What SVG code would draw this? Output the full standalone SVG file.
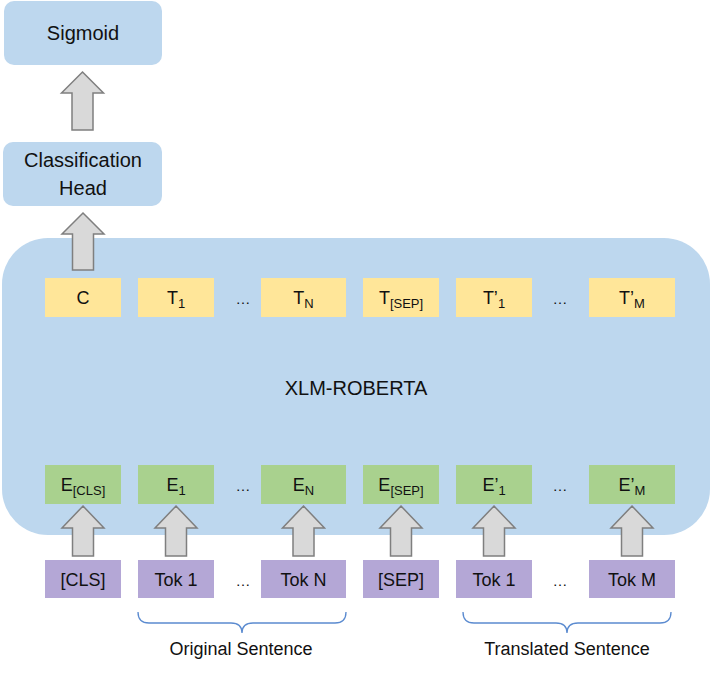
<svg xmlns="http://www.w3.org/2000/svg" width="712" height="677" viewBox="0 0 712 677">
<defs>
<style>
text{font-family:"Liberation Sans",Arial,sans-serif;fill:#111;text-anchor:middle}
.blue{fill:#BDD7EE}
.yel{fill:#FFE699}
.grn{fill:#A9D18E}
.pur{fill:#B4A7D6}
.lbl{font-size:18px}
.big{font-size:20px}
.sub{font-size:13px}
.dots{font-size:15px}
.arr{fill:#D9D9D9;stroke:#7F7F7F;stroke-width:1.5;stroke-linejoin:miter}
.brace{fill:none;stroke:#5B8BD0;stroke-width:1.3}
.cap{font-size:18px}
</style>
</defs>
<rect width="712" height="677" fill="#fff"/>

<g id="xlm-roberta">
<rect class="blue" x="2" y="238" width="708" height="297" rx="46" ry="46"/>
<text class="big" x="356" y="395">XLM-ROBERTA</text>
</g>

<g id="sigmoid">
<rect class="blue" x="4" y="1" width="158" height="64" rx="10"/>
<text class="big" x="83" y="40">Sigmoid</text>
</g>
<g id="classification-head">
<rect class="blue" x="3" y="142" width="159" height="64" rx="10"/>
<text class="big" x="83" y="167">Classification</text>
<text class="big" x="83" y="195">Head</text>
</g>

<g id="t-row">
<g id="t-c"><rect class="yel" x="45" y="278" width="76" height="39"/><text class="lbl" x="83" y="304">C</text></g>
<g id="t-1"><rect class="yel" x="138" y="278" width="76" height="39"/><text class="lbl" x="176" y="304">T<tspan class="sub" dy="4">1</tspan></text></g>
<text class="dots" x="243" y="304">…</text>
<g id="t-n"><rect class="yel" x="261" y="278" width="85" height="39"/><text class="lbl" x="303.5" y="304">T<tspan class="sub" dy="4">N</tspan></text></g>
<g id="t-sep"><rect class="yel" x="363" y="278" width="76" height="39"/><text class="lbl" x="401" y="304">T<tspan class="sub" dy="4">[SEP]</tspan></text></g>
<g id="t-p1"><rect class="yel" x="456" y="278" width="76" height="39"/><text class="lbl" x="494" y="304">T’<tspan class="sub" dy="4">1</tspan></text></g>
<text class="dots" x="560" y="304">…</text>
<g id="t-pm"><rect class="yel" x="589" y="278" width="86" height="39"/><text class="lbl" x="632" y="304">T’<tspan class="sub" dy="4">M</tspan></text></g>
</g>

<g id="e-row">
<g id="e-cls"><rect class="grn" x="45" y="465" width="76" height="39"/><text class="lbl" x="83" y="491">E<tspan class="sub" dy="4">[CLS]</tspan></text></g>
<g id="e-1"><rect class="grn" x="138" y="465" width="76" height="39"/><text class="lbl" x="176" y="491">E<tspan class="sub" dy="4">1</tspan></text></g>
<text class="dots" x="243" y="491">…</text>
<g id="e-n"><rect class="grn" x="261" y="465" width="85" height="39"/><text class="lbl" x="303.5" y="491">E<tspan class="sub" dy="4">N</tspan></text></g>
<g id="e-sep"><rect class="grn" x="363" y="465" width="76" height="39"/><text class="lbl" x="401" y="491">E<tspan class="sub" dy="4">[SEP]</tspan></text></g>
<g id="e-p1"><rect class="grn" x="456" y="465" width="76" height="39"/><text class="lbl" x="494" y="491">E’<tspan class="sub" dy="4">1</tspan></text></g>
<text class="dots" x="560" y="491">…</text>
<g id="e-pm"><rect class="grn" x="589" y="465" width="86" height="39"/><text class="lbl" x="632" y="491">E’<tspan class="sub" dy="4">M</tspan></text></g>
</g>

<g id="tok-row">
<g id="tok-cls"><rect class="pur" x="45" y="560" width="76" height="38"/><text class="lbl" x="83" y="586">[CLS]</text></g>
<g id="tok-1"><rect class="pur" x="138" y="560" width="76" height="38"/><text class="lbl" x="176" y="586">Tok 1</text></g>
<text class="dots" x="243" y="586">…</text>
<g id="tok-n"><rect class="pur" x="261" y="560" width="85" height="38"/><text class="lbl" x="303.5" y="586">Tok N</text></g>
<g id="tok-sep"><rect class="pur" x="363" y="560" width="76" height="38"/><text class="lbl" x="401" y="586">[SEP]</text></g>
<g id="tok-p1"><rect class="pur" x="456" y="560" width="76" height="38"/><text class="lbl" x="494" y="586">Tok 1</text></g>
<text class="dots" x="560" y="586">…</text>
<g id="tok-pm"><rect class="pur" x="589" y="560" width="86" height="38"/><text class="lbl" x="632" y="586">Tok M</text></g>
</g>

<g id="connectors">
<polygon class="arr" points="82.5,72 103.5,93 93,93 93,130 72,130 72,93 61.5,93"/>
<polygon class="arr" points="83,213 104,234 93.5,234 93.5,270 72.5,270 72.5,234 62,234"/>
<polygon class="arr" points="83,506 104,528 93.5,528 93.5,556 72.5,556 72.5,528 62,528"/>
<polygon class="arr" points="176,506 197,528 186.5,528 186.5,556 165.5,556 165.5,528 155,528"/>
<polygon class="arr" points="303.5,506 324.5,528 314,528 314,556 293,556 293,528 282.5,528"/>
<polygon class="arr" points="401,506 422,528 411.5,528 411.5,556 390.5,556 390.5,528 380,528"/>
<polygon class="arr" points="494,506 515,528 504.5,528 504.5,556 483.5,556 483.5,528 473,528"/>
<polygon class="arr" points="632,506 653,528 642.5,528 642.5,556 621.5,556 621.5,528 611,528"/>
</g>

<g id="original-sentence">
<path class="brace" d="M138,612 Q138,623 149,623 L231,623 Q242,623 242,633 Q242,623 253,623 L335,623 Q346,623 346,612"/>
<text class="cap" x="241" y="655">Original Sentence</text>
</g>
<g id="translated-sentence">
<path class="brace" d="M463,612 Q463,623 474,623 L556,623 Q567,623 567,633 Q567,623 578,623 L660,623 Q671,623 671,612"/>
<text class="cap" x="567" y="655">Translated Sentence</text>
</g>
</svg>
